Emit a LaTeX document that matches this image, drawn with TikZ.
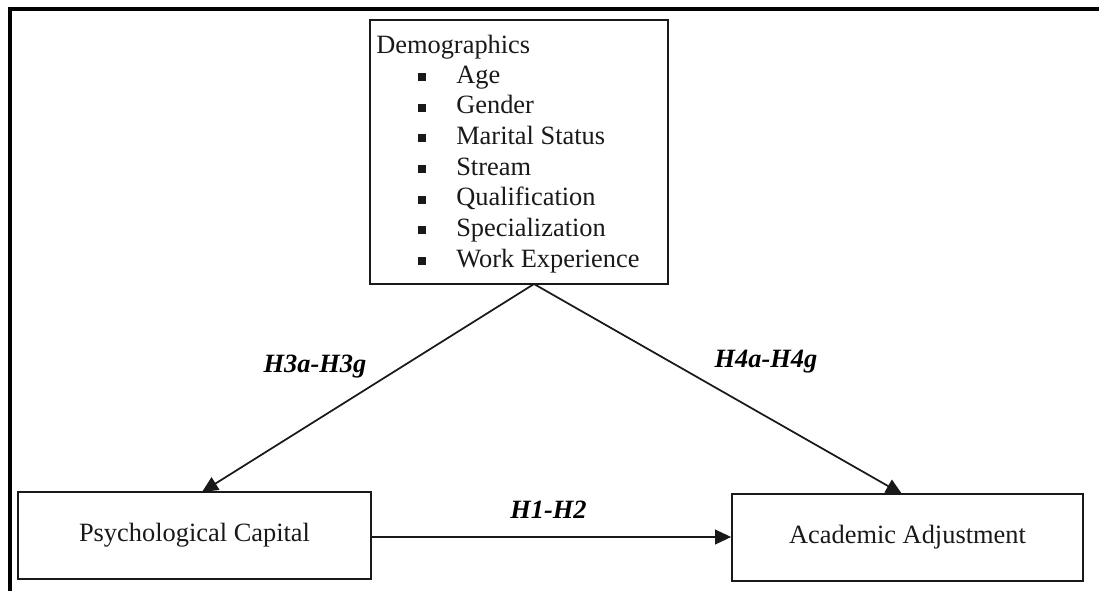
\documentclass[tikz,border=0pt]{standalone}
\usepackage{fontspec}
\setmainfont{Liberation Serif}
\usetikzlibrary{arrows.meta}
\tikzset{
  box/.style={draw=black!90, line width=1.3pt, inner sep=0pt},
  txt/.style={inner sep=0pt, font=\fontsize{19.8}{23}\selectfont, text=black!90},
  lbl/.style={inner sep=0pt, font=\fontsize{19.8}{23}\selectfont\bfseries\itshape, text=black},
  item/.style={txt, anchor=base west},
  bul/.style={fill=black!90, minimum size=6pt, inner sep=0pt},
  link/.style={line width=1.3pt, draw=black!90, -{Triangle[length=12pt,width=11pt]}},
}
\begin{document}
\begin{tikzpicture}[x=0.75pt,y=-0.75pt]
\useasboundingbox (0,0) rectangle (1099,590);
% outer frame (top and left)
\draw[line width=2.4pt, black] (10,600) -- (10,9) -- (1110,9);
% boxes
\path[box] (370,20) rectangle (668,284);
\coordinate (apex) at (534,284);
\node[box, minimum width=353*0.75pt, minimum height=87*0.75pt] (pc) at (194.5,535.5) {};
\node[box, minimum width=351*0.75pt, minimum height=87*0.75pt] (aa) at (907.5,537.5) {};
\node[txt] (pct) at (pc.center) {Psychological Capital};
\node[txt] (aat) at (aa.center) {Academic Adjustment};
% demographics text
\node[item] (dem) at (376,53) {Demographics};
\foreach \n/\t/\y in {a/Age/83, b/Gender/113.7, c/Marital Status/144.3, d/Stream/175, e/Qualification/205.7, f/Specialization/236.3, g/Work Experience/267}{
  \node[bul] (b\n) at (422,\y-6) {};
  \node[item] (i\n) at (456,\y) {\t};
}
% targets
\coordinate (pctop) at (202,492);
\coordinate (aatop) at (902,494);
\draw[link] (apex) -- (pctop);
\draw[link] (apex) -- (aatop);
\draw[link] (pc.east |- 0,537) -- (aa.west |- 0,537);
% labels
\node[lbl, anchor=base] (h3) at (315,372) {H3a-H3g};
\node[lbl, anchor=base] (h4) at (766,367) {H4a-H4g};
\node[lbl, anchor=base] (h1) at (548.5,518) {H1-H2};
\end{tikzpicture}
\end{document}
